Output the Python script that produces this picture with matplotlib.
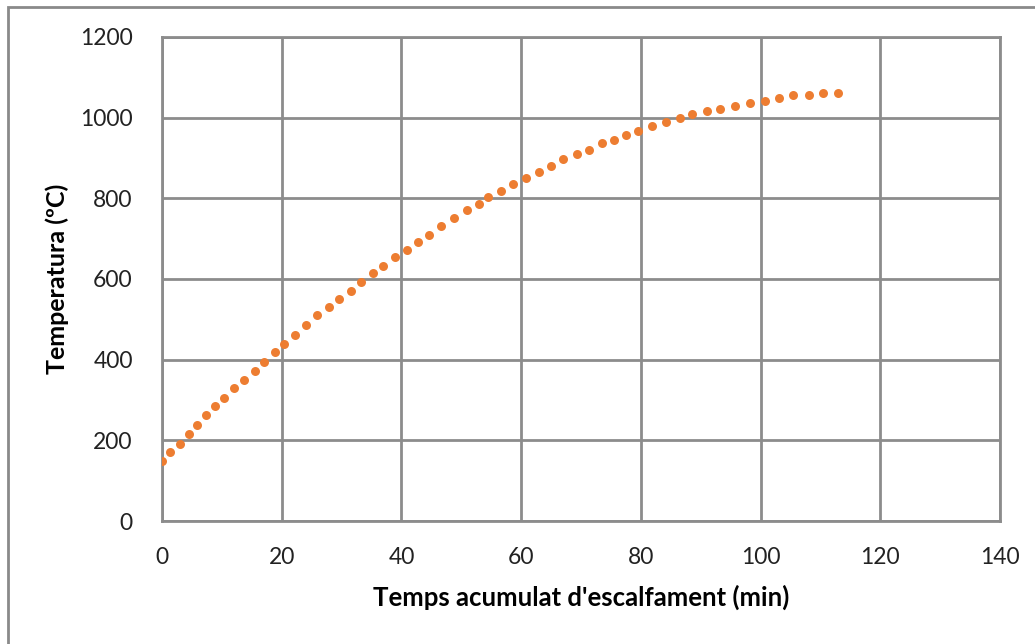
"""
Temperature vs accumulated heating time (Excel-style dotted scatter)
"""
import matplotlib
matplotlib.use('Agg')
import matplotlib.pyplot as plt
from matplotlib.patches import Rectangle

# Values
temps_min = [0, 1.3, 3.0, 4.5, 5.8, 7.3, 8.8, 10.4, 12.0, 13.7,
             15.5, 17.0, 18.8, 20.4, 22.3, 24.1, 25.9, 27.9, 29.6, 31.6,
             33.2, 35.2, 37.0, 39.0, 41.0, 42.7, 44.6, 46.6, 48.8, 50.9,
             52.9, 54.5, 56.6, 58.7, 60.8, 62.9, 65.0, 67.0, 69.3, 71.4,
             73.5, 75.5, 77.6, 79.5, 81.8, 84.2, 86.5, 88.5, 91.0, 93.3,
             95.7, 98.3, 100.7, 103.0, 105.5, 108.1, 110.4, 113.0]
temperatura = [148, 170, 192, 215, 239, 262, 284, 306, 329, 350,
               371, 393, 418, 438, 461, 486, 510, 530, 550, 571,
               593, 614, 632, 655, 672, 692, 710, 731, 751, 771,
               785, 803, 817, 836, 850, 865, 881, 897, 910, 921,
               936, 945, 956, 968, 979, 989, 998, 1010, 1017, 1022,
               1029, 1036, 1042, 1049, 1055, 1055, 1062, 1062]

x_ticks = [0, 20, 40, 60, 80, 100, 120, 140]
y_ticks = [0, 200, 400, 600, 800, 1000, 1200]

plt.rcParams['font.family'] = ['Lato', 'DejaVu Sans']

fig = plt.figure(figsize=(10.35, 6.44), dpi=100)
ax = fig.add_axes([162 / 1035, 1 - 521 / 644, 838 / 1035, 484 / 644])

# Outer chart border (right and bottom edges fall outside the picture)
fig.patches.append(Rectangle((8 / 1035, -0.05), 1.1, 1 - 7 / 644 + 0.05,
                             transform=fig.transFigure, fill=False,
                             edgecolor='#8a8a8a', linewidth=2))

grid_color = '#8c8c8c'
ax.scatter(temps_min, temperatura, s=42, color='#ED7D31', zorder=3,
           linewidths=0)

ax.set_xlim(0, 140)
ax.set_ylim(0, 1200)
ax.set_xticks(x_ticks)
ax.set_yticks(y_ticks)
ax.grid(True, color=grid_color, linewidth=2)
ax.set_axisbelow(True)
for spine in ax.spines.values():
    spine.set_color(grid_color)
    spine.set_linewidth(2)

ax.tick_params(length=0, labelsize=16.5, colors='#222222')
ax.tick_params(axis='x', pad=19)
ax.tick_params(axis='y', pad=21)

ax.set_xlabel("Temps acumulat d'escalfament (min)", fontsize=18.5,
              fontweight='bold', labelpad=12)
ax.set_ylabel('Temperatura (ºC)', fontsize=18, fontweight='bold',
              labelpad=8)

fig.savefig('out.png', dpi=100)
